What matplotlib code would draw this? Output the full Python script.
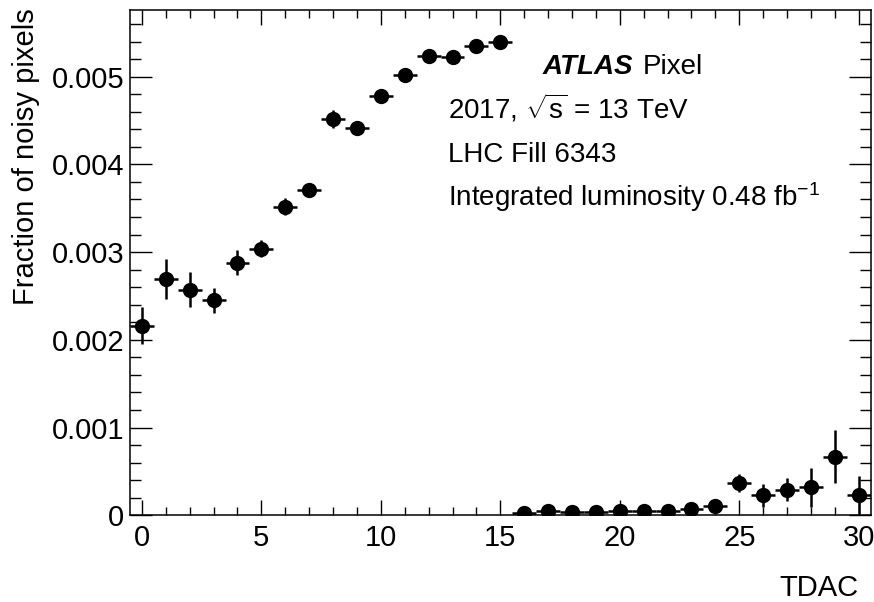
import matplotlib
matplotlib.use('Agg')
import matplotlib.pyplot as plt
from matplotlib.ticker import MultipleLocator, FixedLocator

plt.rcParams['font.family'] = ['Liberation Sans', 'DejaVu Sans']
plt.rcParams['mathtext.fontset'] = 'custom'
plt.rcParams['mathtext.rm'] = 'Liberation Sans'
plt.rcParams['mathtext.it'] = 'Liberation Sans:italic'

# TDAC bins and fraction of noisy pixels
tdac = list(range(31))
fraction = [2.16e-3, 2.69e-3, 2.57e-3, 2.45e-3, 2.88e-3, 3.04e-3, 3.52e-3, 3.71e-3,
            4.52e-3, 4.42e-3, 4.78e-3, 5.02e-3, 5.24e-3, 5.22e-3, 5.35e-3, 5.40e-3,
            0.03e-3, 0.05e-3, 0.04e-3, 0.035e-3, 0.045e-3, 0.05e-3, 0.045e-3, 0.07e-3,
            0.105e-3, 0.37e-3, 0.23e-3, 0.29e-3, 0.32e-3, 0.67e-3, 0.23e-3]
fraction_err = [0.21e-3, 0.23e-3, 0.20e-3, 0.14e-3, 0.14e-3, 0.10e-3, 0.10e-3, 0.07e-3,
                0.10e-3, 0.05e-3, 0.08e-3, 0.05e-3, 0.05e-3, 0.05e-3, 0.05e-3, 0.04e-3,
                0.02e-3, 0.02e-3, 0.02e-3, 0.02e-3, 0.03e-3, 0.02e-3, 0.02e-3, 0.02e-3,
                0.03e-3, 0.10e-3, 0.13e-3, 0.13e-3, 0.22e-3, 0.30e-3, 0.22e-3]
bin_halfwidth = [0.5] * len(tdac)

yticks = [0, 0.001, 0.002, 0.003, 0.004, 0.005]
ytick_labels = ['0', '0.001', '0.002', '0.003', '0.004', '0.005']
xticks = [0, 5, 10, 15, 20, 25, 30]

fig = plt.figure(figsize=(8.74, 6.02), dpi=100)
ax = fig.add_axes([0.1487, 0.144, 0.8475, 0.8394])

ax.errorbar(tdac, fraction, yerr=fraction_err, xerr=bin_halfwidth, fmt='o',
            color='black', ms=10, elinewidth=1.8, capsize=0)

ax.set_xlim(-0.5, 30.5)
ax.set_ylim(0, 0.00576)
ax.set_xticks(xticks)
ax.xaxis.set_minor_locator(MultipleLocator(1))
ax.yaxis.set_major_locator(FixedLocator(yticks))
ax.set_yticklabels(ytick_labels)
ax.yaxis.set_minor_locator(MultipleLocator(0.0002))

ax.tick_params(axis='both', which='both', direction='in', top=True, right=True,
               labelsize=21, width=1.0)
ax.tick_params(axis='x', which='major', length=11, pad=6)
ax.tick_params(axis='x', which='minor', length=5.5)
ax.tick_params(axis='y', which='major', length=16, pad=4)
ax.tick_params(axis='y', which='minor', length=8)
for s in ax.spines.values():
    s.set_linewidth(1.1)

fig.text(26 / 874, 1 - 8 / 602, 'Fraction of noisy pixels', rotation=90,
         ha='center', va='top', fontsize=21)
fig.text(858 / 874, 1 - 588 / 602, 'TDAC', ha='right', va='center', fontsize=21)

atlas = ax.text(0.5576, 0.873, 'ATLAS', transform=ax.transAxes, fontsize=20,
                fontweight='bold', fontstyle='italic')
fig.canvas.draw()
bb = atlas.get_window_extent().transformed(ax.transAxes.inverted())
ax.text(bb.x1 + 0.012, 0.873, 'Pixel', transform=ax.transAxes, fontsize=20)
ax.text(0.43, 0.786, r'2017, $\sqrt{\mathrm{s}}$ = 13 TeV', transform=ax.transAxes, fontsize=20)
ax.text(0.43, 0.700, 'LHC Fill 6343', transform=ax.transAxes, fontsize=20)
ax.text(0.43, 0.612, r'Integrated luminosity 0.48 fb$^{\mathregular{-1}}$',
        transform=ax.transAxes, fontsize=20)

fig.savefig('out.png', dpi=100)
